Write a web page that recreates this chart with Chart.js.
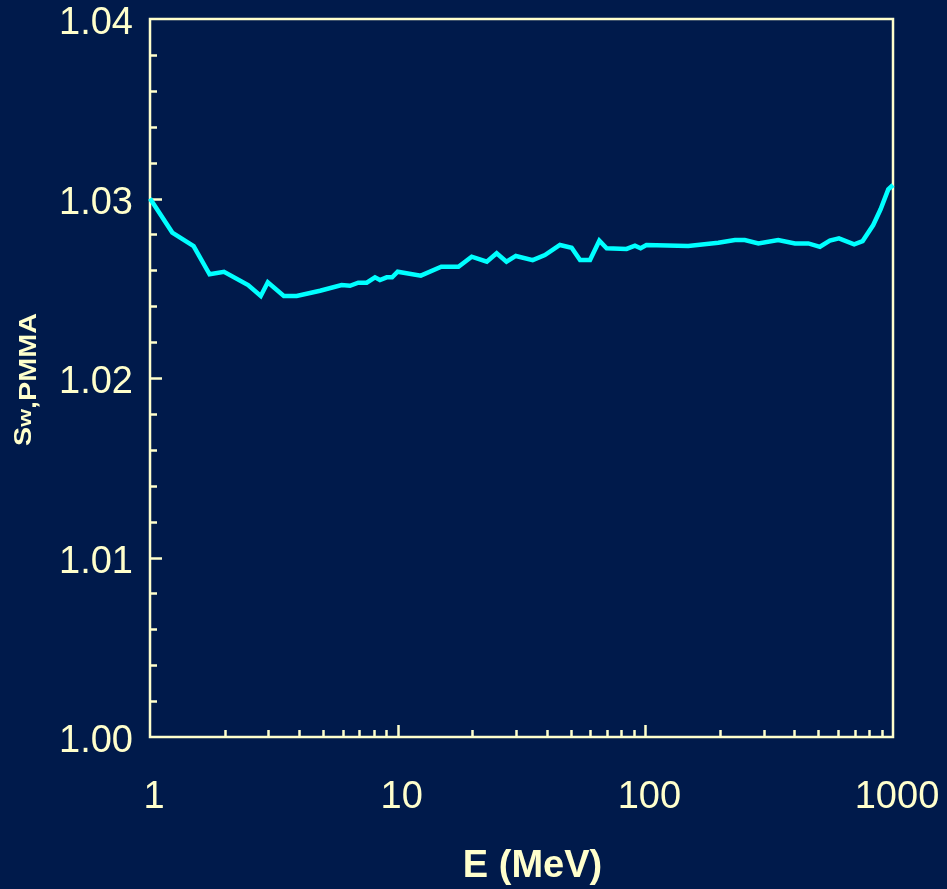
<!DOCTYPE html>
<html>
<head>
<meta charset="utf-8">
<script src="https://cdn.jsdelivr.net/npm/chart.js@4/dist/chart.umd.min.js"></script>
<style>
  html, body { margin: 0; padding: 0; background: #001a4b; }
  #wrap { width: 947px; height: 889px; }
</style>
</head>
<body>
<div id="wrap"><canvas id="chart" width="947" height="889"></canvas></div>
<script>
// Electron energy (MeV) and water-to-PMMA stopping-power ratio
const energyMeV = [
  1, 1.23, 1.5, 1.74, 1.99, 2.49, 2.8, 2.99, 3.47, 3.91,
  4.86, 5.94, 6.42, 6.93, 7.5, 8.1, 8.48, 9.03, 9.5, 10.0,
  12.4, 15.0, 17.6, 19.9, 22.9, 25.1, 27.5, 30.0, 35.1, 39.3,
  45.2, 50.4, 54.5, 59.8, 65.2, 69.8, 84, 90.8, 95.7, 101,
  149, 197, 230, 252, 286, 344, 402, 455, 507, 556,
  605, 697, 754, 832, 891, 957, 1000
];
const ratioSwPmma = [
  1.0300, 1.0281, 1.02735, 1.02578, 1.02592, 1.02518, 1.02457, 1.02533, 1.02457, 1.02457,
  1.02486, 1.02518, 1.02514, 1.02531, 1.02531, 1.02561, 1.02546, 1.02561, 1.02561, 1.02592,
  1.02570, 1.02620, 1.02620, 1.02676, 1.02648, 1.02695, 1.02648, 1.02680, 1.02657, 1.02685,
  1.02741, 1.02726, 1.02657, 1.02657, 1.02765, 1.02723, 1.02719, 1.02737, 1.02723, 1.02741,
  1.02735, 1.02754, 1.02769, 1.02769, 1.02750, 1.02769, 1.02750, 1.02750, 1.02731, 1.02765,
  1.02778, 1.02745, 1.02763, 1.02852, 1.02940, 1.03051, 1.03075
];

// Axis ticks
const xTickValues = [1, 10, 100, 1000];
const xMinorMultipliers = [2, 3, 4, 5, 6, 7, 8, 9];
const yTickValues = [1.00, 1.01, 1.02, 1.03, 1.04];
const yMinorStep = 0.002;

// Titles
const xTitleText = 'E (MeV)';
const yTitleMain = 'S';
const yTitleLetter = 'w';
const yTitleSub = ',PMMA';

const BG = '#001a4b';
const INK = '#ffffcc';
const LINE = '#00ffff';
const FONT = '"Liberation Sans", Arial, sans-serif';

// Background, boxed frame with inward tick marks, and axis titles
const framePlugin = {
  id: 'framePlugin',
  beforeDraw(chart) {
    const ctx = chart.ctx;
    ctx.save();
    ctx.fillStyle = BG;
    ctx.fillRect(0, 0, chart.width, chart.height);
    ctx.restore();
  },
  beforeDatasetsDraw(chart) {
    const { ctx, chartArea: a, scales: { x, y } } = chart;
    ctx.save();
    ctx.strokeStyle = INK;
    ctx.lineWidth = 2.5;
    ctx.lineCap = 'butt';
    ctx.beginPath();
    // y ticks (major every 0.01, minor every 0.002)
    const nY = Math.round((y.max - y.min) / yMinorStep);
    for (let i = 1; i < nY; i++) {
      const v = y.min + i * yMinorStep;
      const py = Math.round(y.getPixelForValue(v)) + 0.5;
      const major = i % 5 === 0;
      ctx.moveTo(a.left, py);
      ctx.lineTo(a.left + (major ? 12 : 7), py);
    }
    // x ticks (log decades with minor 2..9)
    for (let d = 0; d < xTickValues.length - 1; d++) {
      const base = xTickValues[d];
      for (const m of xMinorMultipliers) {
        const px = Math.round(x.getPixelForValue(base * m)) + 0.5;
        ctx.moveTo(px, a.bottom);
        ctx.lineTo(px, a.bottom - 7);
      }
      if (d > 0) {
        const px = Math.round(x.getPixelForValue(base)) + 0.5;
        ctx.moveTo(px, a.bottom);
        ctx.lineTo(px, a.bottom - 12);
      }
    }
    ctx.stroke();
    ctx.strokeRect(a.left, a.top, a.right - a.left, a.bottom - a.top);
    ctx.restore();
  },
  afterDraw(chart) {
    const { ctx, chartArea: a } = chart;
    ctx.save();
    ctx.fillStyle = INK;
    // x-axis title
    ctx.font = 'bold 38px ' + FONT;
    ctx.textAlign = 'center';
    ctx.textBaseline = 'alphabetic';
    ctx.fillText(xTitleText, (a.left + a.right) / 2 + 11, 877);
    // y-axis title, reading bottom to top
    ctx.translate(31, 446);
    ctx.rotate(-Math.PI / 2);
    ctx.scale(1.2, 1);
    ctx.textAlign = 'left';
    ctx.font = 'bold 24px ' + FONT;
    ctx.fillText(yTitleMain, 0, 0);
    let off = ctx.measureText(yTitleMain).width;
    ctx.font = 'bold 19px ' + FONT;
    ctx.fillText(yTitleLetter, off, 0);
    off += ctx.measureText(yTitleLetter).width;
    ctx.font = 'bold 24px ' + FONT;
    ctx.fillText(yTitleSub, off, 5);
    ctx.restore();
  }
};

const points = energyMeV.map((e, i) => ({ x: e, y: ratioSwPmma[i] }));

new Chart(document.getElementById('chart'), {
  type: 'line',
  data: {
    datasets: [{
      data: points,
      borderColor: LINE,
      borderWidth: 4.5,
      pointRadius: 0,
      tension: 0,
      fill: false,
      clip: false
    }]
  },
  options: {
    responsive: false,
    animation: false,
    devicePixelRatio: 1,
    layout: { padding: { top: 19, right: 54, left: 0, bottom: 0 } },
    plugins: { legend: { display: false }, tooltip: { enabled: false } },
    scales: {
      x: {
        type: 'logarithmic',
        min: 1,
        max: 1000,
        afterBuildTicks: s => { s.ticks = xTickValues.map(v => ({ value: v })); },
        afterFit: s => { s.height = 152; s.paddingLeft = 0; s.paddingRight = 0; },
        grid: { display: false, drawTicks: false },
        border: { display: false },
        ticks: {
          color: INK,
          font: { family: FONT, size: 38 },
          padding: 38,
          labelOffset: 4,
          autoSkip: false,
          maxRotation: 0,
          callback: v => String(v)
        }
      },
      y: {
        type: 'linear',
        min: 1.00,
        max: 1.04,
        afterBuildTicks: s => { s.ticks = yTickValues.map(v => ({ value: v })); },
        afterFit: s => { s.width = 150; s.paddingTop = 0; s.paddingBottom = 0; },
        grid: { display: false, drawTicks: false },
        border: { display: false },
        ticks: {
          color: INK,
          font: { family: FONT, size: 38 },
          padding: 17,
          labelOffset: 5,
          callback: v => Number(v).toFixed(2)
        }
      }
    }
  },
  plugins: [framePlugin]
});
</script>
</body>
</html>
